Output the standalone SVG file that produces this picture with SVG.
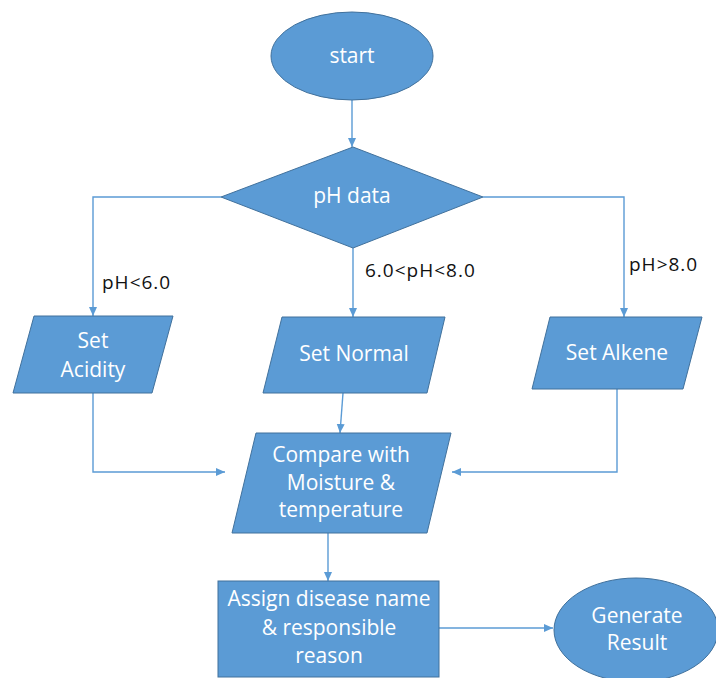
<svg xmlns="http://www.w3.org/2000/svg" width="716" height="678" viewBox="0 0 716 678">
<defs>
<marker id="arr" markerUnits="userSpaceOnUse" markerWidth="10" markerHeight="10" refX="9" refY="4" orient="auto">
<path d="M0,0 L9,4 L0,8 Z" fill="#5B9BD5"/>
</marker>
<style>
.shape{fill:#5B9BD5;stroke:#41719C;stroke-width:1}
.t{font-family:"Open Sans","Liberation Sans",sans-serif;font-size:21px;fill:#ffffff;text-anchor:middle}
.lbl{font-family:"Open Sans","Liberation Sans",sans-serif;font-size:19px;fill:#111111;letter-spacing:1px}
.c{fill:none;stroke:#5B9BD5;stroke-width:1.4;marker-end:url(#arr)}
</style>
</defs>
<rect width="716" height="678" fill="#ffffff"/>
<g id="connectors">
<path class="c" d="M352,100 L352,147"/>
<path class="c" d="M221,197 L93,197 L93,316"/>
<path class="c" d="M353,248 L353,317"/>
<path class="c" d="M483,197 L624,197 L624,317"/>
<path class="c" d="M93,393 L93,472 L225,472"/>
<path class="c" d="M343,393 L340,433"/>
<path class="c" d="M617,389 L617,472 L452,472"/>
<path class="c" d="M328,533 L328,581"/>
<path class="c" d="M439,628 L553,628"/>
</g>
<g id="start">
<ellipse class="shape" cx="352" cy="56" rx="81" ry="44"/>
<text class="t" x="352" y="63">start</text>
</g>
<g id="ph-data">
<polygon class="shape" points="353,147 483,197 353,248 221,197"/>
<text class="t" x="352" y="203">pH data</text>
</g>
<g id="label-acid"><text class="lbl" x="102" y="289">pH&lt;6.0</text></g>
<g id="label-normal"><text class="lbl" x="365" y="277">6.0&lt;pH&lt;8.0</text></g>
<g id="label-alk"><text class="lbl" x="629" y="271">pH&gt;8.0</text></g>
<g id="set-acidity">
<polygon class="shape" points="34,316 173,316 152,393 13,393"/>
<text class="t" x="93" y="348">Set</text>
<text class="t" x="93" y="377">Acidity</text>
</g>
<g id="set-normal">
<polygon class="shape" points="282,317 445,317 427,393 263,393"/>
<text class="t" x="354" y="361">Set Normal</text>
</g>
<g id="set-alkene">
<polygon class="shape" points="550,317 702,317 683,389 532,389"/>
<text class="t" x="617" y="360">Set Alkene</text>
</g>
<g id="compare">
<polygon class="shape" points="256,433 451,433 427,533 232,533"/>
<text class="t" x="341" y="462">Compare with</text>
<text class="t" x="341" y="490">Moisture &amp;</text>
<text class="t" x="341" y="517">temperature</text>
</g>
<g id="assign">
<rect class="shape" x="218" y="581" width="221" height="96"/>
<text class="t" x="329" y="606">Assign disease name</text>
<text class="t" x="329" y="635">&amp; responsible</text>
<text class="t" x="329" y="663">reason</text>
</g>
<g id="generate">
<ellipse class="shape" cx="636" cy="630" rx="82" ry="52"/>
<text class="t" x="637" y="623">Generate</text>
<text class="t" x="637" y="650">Result</text>
</g>
</svg>
